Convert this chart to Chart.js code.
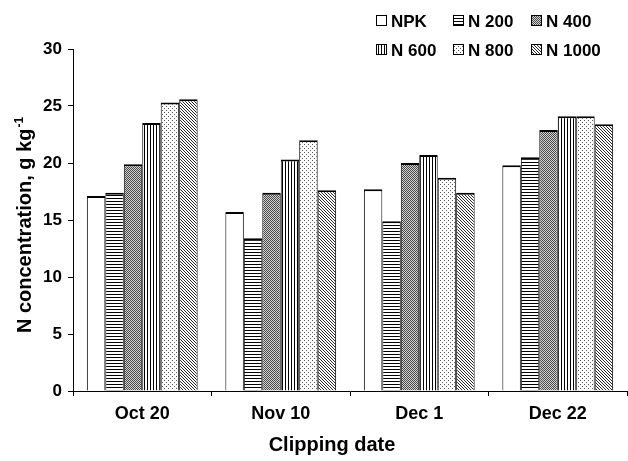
<!DOCTYPE html>
<html>
<head>
<meta charset="utf-8">
<script src="https://cdn.jsdelivr.net/npm/chart.js@4"></script>
<style>
  html, body { margin: 0; padding: 0; background: #fff; }
  #wrap { width: 628px; height: 461px; position: relative; }
</style>
</head>
<body>
<div id="wrap"><canvas id="c"></canvas></div>
<script>
// Nitrogen concentration by clipping date and fertiliser treatment
const categories = ['Oct 20', 'Nov 10', 'Dec 1', 'Dec 22'];
const seriesNames = ['NPK', 'N 200', 'N 400', 'N 600', 'N 800', 'N 1000'];
const npk   = [17.1, 15.7, 17.7, 19.8];
const n200  = [17.4, 13.4, 14.9, 20.5];
const n400  = [19.9, 17.4, 20.0, 22.9];
const n600  = [23.5, 20.3, 20.7, 24.1];
const n800  = [25.3, 22.0, 18.7, 24.1];
const n1000 = [25.6, 17.6, 17.4, 23.4];
const yTicks = [0, 5, 10, 15, 20, 25, 30];
const xTitle = 'Clipping date';
const yTitle = 'N concentration, g kg';
const yTitleSup = '-1';

const seriesData = [npk, n200, n400, n600, n800, n1000];
const FONT = "'Liberation Sans', Arial, sans-serif";

const canvas = document.getElementById('c');
const ctx0 = canvas.getContext('2d');

// Monochrome hatch fills, one per treatment
function makePattern(size, paint) {
  const c = document.createElement('canvas');
  c.width = size; c.height = size;
  const g = c.getContext('2d');
  g.fillStyle = '#fff';
  g.fillRect(0, 0, size, size);
  paint(g, size);
  return ctx0.createPattern(c, 'repeat');
}
const px = (g, x, y, col) => { g.fillStyle = col; g.fillRect(x, y, 1, 1); };

const fills = [
  '#ffffff',
  makePattern(3, (g, s) => { for (let x = 0; x < s; x++) px(g, x, 0, '#000'); }),
  makePattern(2, (g) => { px(g, 0, 0, '#4a4a4a'); px(g, 1, 1, '#4a4a4a'); px(g, 1, 0, '#d2d2d2'); px(g, 0, 1, '#d2d2d2'); }),
  makePattern(3, (g, s) => { for (let y = 0; y < s; y++) px(g, 0, y, '#000'); }),
  makePattern(4, (g) => { px(g, 0, 0, '#555'); px(g, 2, 2, '#555'); }),
  makePattern(3, (g, s) => { for (let i = 0; i < s; i++) px(g, i, i, '#2a2a2a'); })
];

const datasets = seriesData.map((d, i) => ({
  label: seriesNames[i],
  data: d,
  backgroundColor: fills[i],
  borderColor: '#000',
  borderWidth: { top: 2, left: 1, right: 1, bottom: 0 },
  borderSkipped: 'start',
  categoryPercentage: 0.8,
  barPercentage: 1.0
}));

// Legend and axis titles drawn onto the canvas
const annotations = {
  id: 'annotations',
  afterDraw(chart) {
    const ctx = chart.ctx;
    ctx.save();
    // legend: 3 columns x 2 rows
    const colX = [376, 453, 531];
    const rowY = [21, 50];
    ctx.font = `bold 17px ${FONT}`;
    ctx.textBaseline = 'middle';
    ctx.textAlign = 'left';
    seriesNames.forEach((name, i) => {
      const bx = colX[i % 3], cy = rowY[Math.floor(i / 3)];
      ctx.fillStyle = fills[i];
      ctx.fillRect(bx, cy - 6, 11, 11);
      ctx.strokeStyle = '#000';
      ctx.lineWidth = 1;
      ctx.strokeRect(bx + 0.5, cy - 5.5, 10, 10);
      ctx.fillStyle = '#000';
      ctx.fillText(name, bx + 15, cy + 1);
    });

    // x-axis title
    ctx.font = `bold 20px ${FONT}`;
    ctx.textAlign = 'center';
    ctx.textBaseline = 'middle';
    ctx.fillStyle = '#000';
    ctx.fillText(xTitle, 332, 445);

    // y-axis title with superscript
    ctx.translate(31, 225);
    ctx.rotate(-Math.PI / 2);
    ctx.textBaseline = 'alphabetic';
    ctx.textAlign = 'left';
    ctx.font = `bold 20px ${FONT}`;
    const w1 = ctx.measureText(yTitle).width;
    ctx.font = `bold 12px ${FONT}`;
    const w2 = ctx.measureText(yTitleSup).width;
    const start = -(w1 + w2 + 1) / 2;
    ctx.font = `bold 20px ${FONT}`;
    ctx.fillText(yTitle, start, 0);
    ctx.font = `bold 12px ${FONT}`;
    ctx.fillText(yTitleSup, start + w1 + 1, -8);
    ctx.restore();
  }
};

new Chart(canvas, {
  type: 'bar',
  data: { labels: categories, datasets },
  options: {
    responsive: true,
    maintainAspectRatio: false,
    animation: false,
    devicePixelRatio: 1,
    layout: { padding: { top: 49, right: 1, bottom: 0, left: 0 } },
    plugins: {
      legend: { display: false },
      tooltip: { enabled: false }
    },
    scales: {
      x: {
        grid: { display: true, drawOnChartArea: false, drawTicks: true, tickLength: 5, color: '#000', offset: true },
        border: { display: true, color: '#000', width: 1 },
        ticks: { color: '#000', padding: 7, font: { family: FONT, size: 18, weight: 'bold' } },
        afterFit: (s) => { s.height = 70; }
      },
      y: {
        min: 0,
        max: 30,
        afterBuildTicks: (s) => { s.ticks = yTicks.map(v => ({ value: v })); },
        grid: { display: true, drawOnChartArea: false, drawTicks: true, tickLength: 5, color: '#000' },
        border: { display: true, color: '#000', width: 1 },
        ticks: { color: '#000', padding: 6, font: { family: FONT, size: 17, weight: 'bold' } },
        afterFit: (s) => { s.width = 73; }
      }
    }
  },
  plugins: [annotations]
});
</script>
</body>
</html>
